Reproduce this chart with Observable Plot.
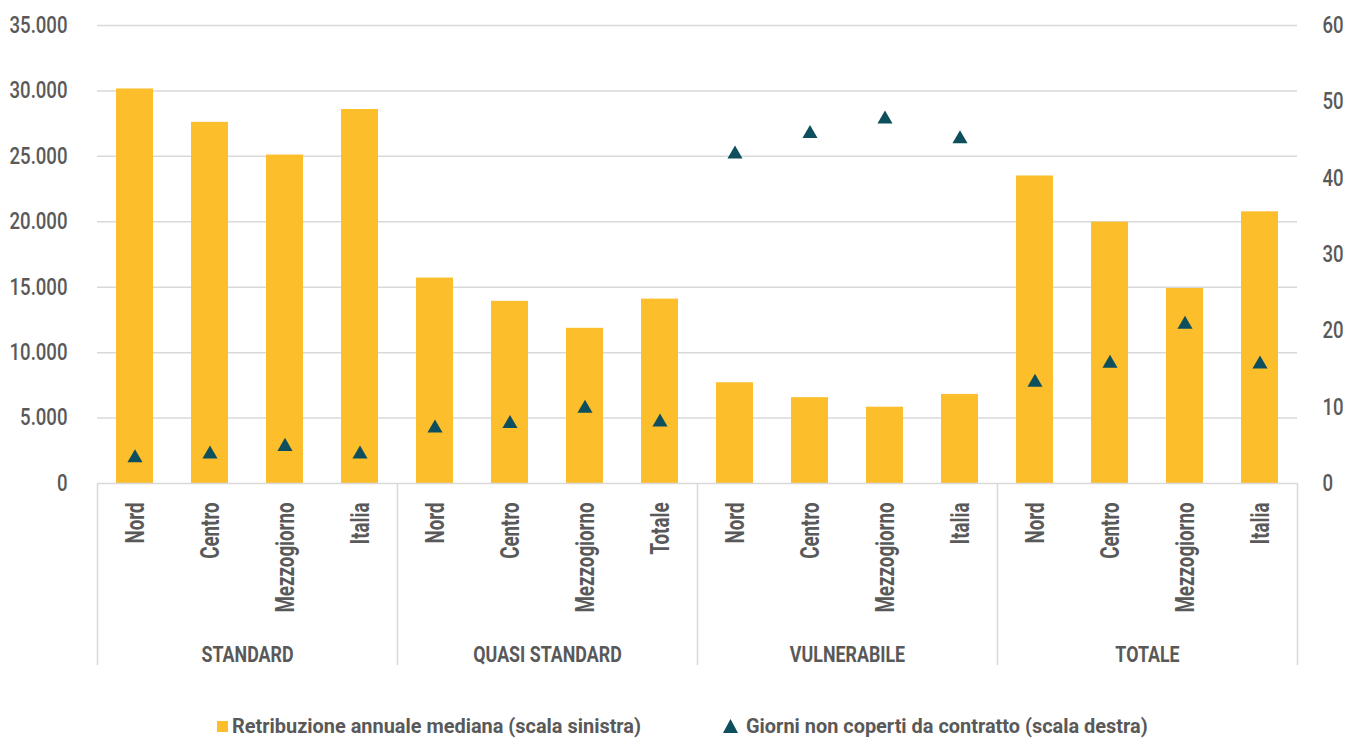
<!DOCTYPE html>
<html>
<head>
<meta charset="utf-8">
<script src="https://cdn.jsdelivr.net/npm/d3@7"></script>
<script src="https://cdn.jsdelivr.net/npm/@observablehq/plot@0.6"></script>
<style>
  html, body { margin: 0; padding: 0; background: #fff; }
  body { width: 1355px; font-family: Roboto, "Noto Sans", sans-serif; }
  #legend { display: flex; align-items: center; height: 32px; padding-left: 217px; color: #595959; font-size: 20px; font-weight: bold; white-space: nowrap; }
  .item { display: flex; align-items: center; }
  .item span { display: inline-block; transform-origin: 0 50%; }
  .sw { width: 11px; height: 11px; background: #FCBE2A; margin-right: 4px; }
  .tri { margin-right: 8px; }
</style>
</head>
<body>
<div id="chart"></div>
<div id="legend">
  <div class="item"><div class="sw"></div><span id="l1">Retribuzione annuale mediana (scala sinistra)</span></div>
  <div class="item" style="margin-left:82px"><svg class="tri" width="15" height="14"><path d="M7.5,0 L15,14 L0,14 Z" fill="#0D4F5C"/></svg><span id="l2">Giorni non coperti da contratto (scala destra)</span></div>
</div>
<script>
const groups = ["STANDARD", "QUASI STANDARD", "VULNERABILE", "TOTALE"];
const regionsByGroup = [
  ["Nord", "Centro", "Mezzogiorno", "Italia"],
  ["Nord", "Centro", "Mezzogiorno", "Totale"],
  ["Nord", "Centro", "Mezzogiorno", "Italia"],
  ["Nord", "Centro", "Mezzogiorno", "Italia"]
];
const retribuzione = [30150, 27600, 25100, 28580, 15700, 13920, 11860, 14090, 7700, 6560, 5830, 6810, 23500, 19970, 14900, 20760];
const giorni = [3.6, 4.1, 5.1, 4.1, 7.5, 8.1, 10.1, 8.3, 43.4, 46.1, 48.0, 45.4, 13.5, 16.0, 21.1, 15.9];
const leftTicks = [0, 5000, 10000, 15000, 20000, 25000, 30000, 35000];
const rightTicks = [0, 10, 20, 30, 40, 50, 60];

const yMax = 35000, rMax = 60, K = yMax / rMax;
const data = [];
regionsByGroup.forEach((regs, g) => regs.forEach((r, j) => {
  const i = data.length;
  data.push({i, group: groups[g], region: r, retribuzione: retribuzione[i], giorni: giorni[i]});
}));
const groupData = groups.map((name, g) => ({name, start: g * 4}));
const boundaries = d3.range(0, groups.length + 1).map(g => g * 4);

const itFormat = d3.formatLocale({decimal: ",", thousands: ".", grouping: [3]}).format(",");
const txt = "#595959", grid = "#D9D9D9";

const chart = Plot.plot({
  width: 1355,
  height: 710,
  marginLeft: 97,
  marginRight: 58,
  marginTop: 25,
  marginBottom: 227,
  style: {fontFamily: 'Roboto, "Noto Sans", sans-serif', color: txt, background: "#fff"},
  x: {domain: [0, data.length]},
  y: {domain: [0, yMax]},
  marks: [
    Plot.gridY(leftTicks.slice(1), {stroke: grid, strokeOpacity: 1, strokeWidth: 1.5}),
    Plot.rectY(data, {x1: d => d.i, x2: d => d.i + 1, y: "retribuzione", insetLeft: 19, insetRight: 19, fill: "#FCBE2A"}),
    Plot.ruleY([0], {stroke: grid, strokeWidth: 1.5}),
    Plot.axisX(boundaries, {anchor: "bottom", tickSize: 182, tickFormat: () => "", stroke: grid, strokeWidth: 1.5, label: null}),
    Plot.dot(data, {x: d => d.i + 0.5, y: d => d.giorni * K, symbol: "triangle", r: 5.6, fill: "#0D4F5C", dy: 2}),
    Plot.axisY(leftTicks, {anchor: "left", tickSize: 0, tickPadding: 30, tickFormat: itFormat, fontSize: 23, fontWeight: 500, fill: txt, label: null, className: "ytickl"}),
    Plot.axisY(rightTicks.map(v => v * K), {anchor: "right", tickSize: 0, tickPadding: 25, tickFormat: v => Math.round(v / K), fontSize: 23, fontWeight: 500, fill: txt, label: null, className: "ytickr"}),
    Plot.text(data, {x: d => d.i + 0.5, frameAnchor: "bottom", text: "region", rotate: -90, textAnchor: "end", dx: 9, dy: 19, fontSize: 26, fontWeight: "bold", fill: txt, className: "cat"}),
    Plot.text(groupData, {x: d => d.start + 2, frameAnchor: "bottom", text: "name", dy: 178, fontSize: 22, fontWeight: "bold", fill: txt, className: "grp"})
  ]
});
document.getElementById("chart").appendChild(chart);

// emulate the condensed typeface of the original
function condense(sel, sample, target) {
  const els = [...chart.querySelectorAll(sel)];
  if (!els.length) return;
  const ref = els.find(e => e.textContent === sample) || els[0];
  const f = target / ref.getComputedTextLength();
  els.forEach(e => {
    const L = e.getComputedTextLength();
    if (L > 0) { e.setAttribute("textLength", L * f); e.setAttribute("lengthAdjust", "spacingAndGlyphs"); }
  });
  return f;
}
const fTick = condense(".ytickl text", "35.000", 58);
[...chart.querySelectorAll(".ytickr text")].forEach(e => {
  const L = e.getComputedTextLength();
  e.setAttribute("textLength", L * fTick); e.setAttribute("lengthAdjust", "spacingAndGlyphs");
});
condense(".cat text", "Mezzogiorno", 110);
condense(".grp text", "STANDARD", 92);

const l1 = document.getElementById("l1"), l2 = document.getElementById("l2");
const fl = 409 / l1.getBoundingClientRect().width;
[l1, l2].forEach(s => {
  const w = s.getBoundingClientRect().width;
  s.style.transform = `scaleX(${fl})`;
  s.style.marginRight = `${-(1 - fl) * w}px`;
});
</script>
</body>
</html>
